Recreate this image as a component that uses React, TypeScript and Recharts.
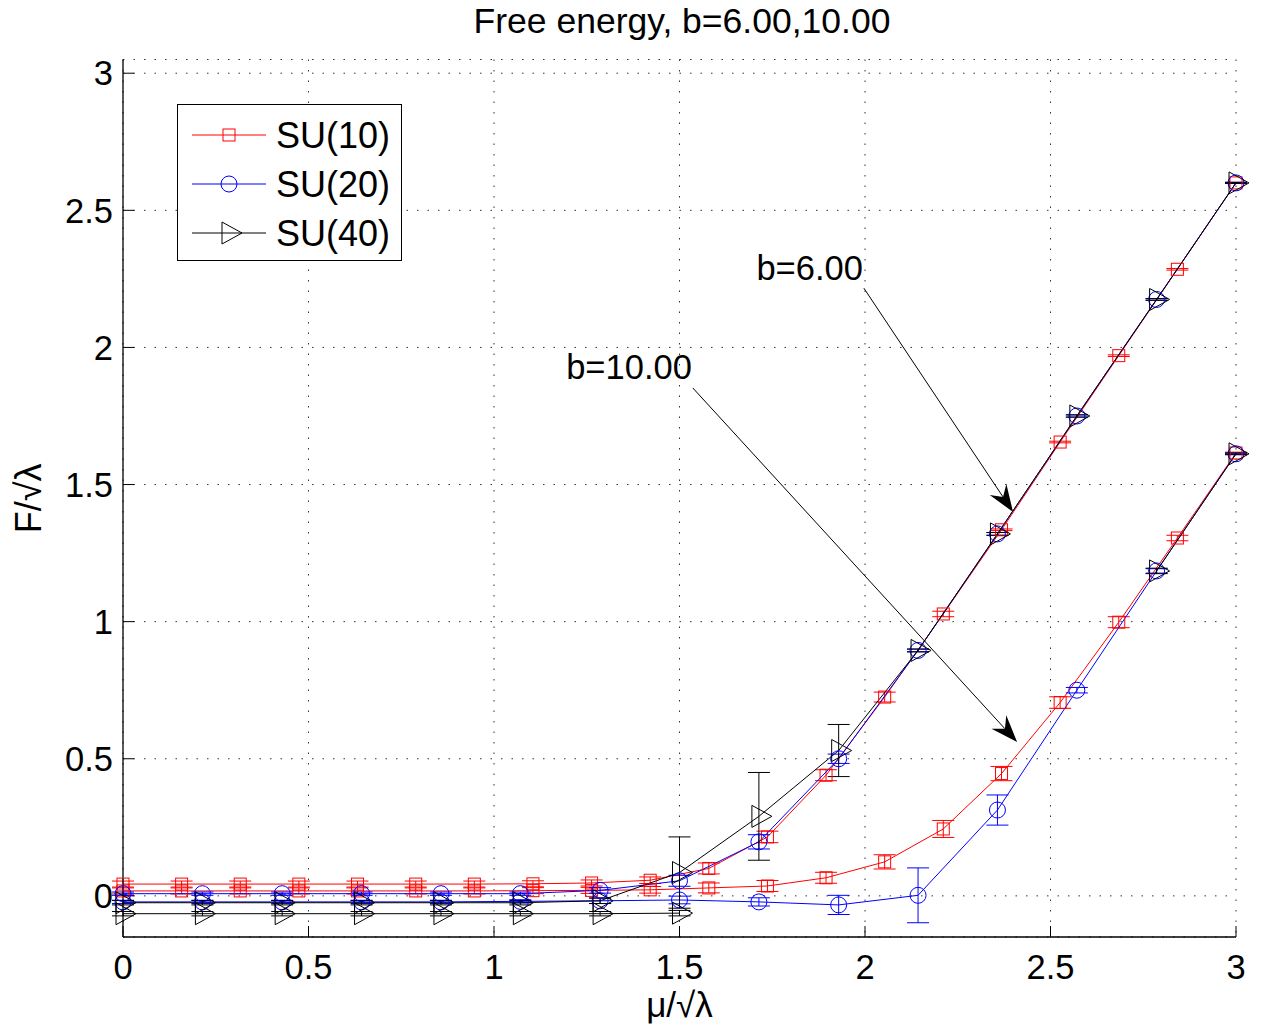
import React from 'react';
import { LineChart, Line, XAxis, YAxis, CartesianGrid, ErrorBar, Legend, ReferenceLine, Label } from 'recharts';

const FONT = '"Liberation Sans", Arial, Helvetica, sans-serif';

// ---- data ----
const muSU10 = [0, 0.158, 0.316, 0.474, 0.632, 0.789, 0.947, 1.105, 1.263, 1.421, 1.579, 1.737, 1.895, 2.053, 2.211, 2.368, 2.526, 2.684, 2.842, 3];
const su10b6 = [0.043, 0.043, 0.043, 0.043, 0.043, 0.043, 0.043, 0.044, 0.047, 0.057, 0.1, 0.215, 0.44, 0.725, 1.028, 1.335, 1.655, 1.97, 2.285, 2.6];
const su10b6Err = [0.011, 0.011, 0.011, 0.011, 0.011, 0.011, 0.011, 0.011, 0.011, 0.012, 0.02, 0.021, 0.02, 0.018, 0.01, 0.003, 0.003, 0.003, 0.003, 0.002];
const su10b10 = [0.018, 0.018, 0.018, 0.018, 0.018, 0.018, 0.018, 0.019, 0.02, 0.022, 0.029, 0.036, 0.066, 0.124, 0.244, 0.446, 0.705, 0.998, 1.305, 1.615];
const su10b10Err = [0.011, 0.011, 0.011, 0.011, 0.011, 0.011, 0.011, 0.011, 0.011, 0.012, 0.018, 0.02, 0.02, 0.026, 0.031, 0.026, 0.021, 0.02, 0.01, 0.003];

const muSU20 = [0, 0.214, 0.429, 0.643, 0.857, 1.071, 1.286, 1.5, 1.714, 1.929, 2.143, 2.357, 2.571, 2.786, 3];
const su20b6 = [0.008, 0.008, 0.008, 0.008, 0.008, 0.008, 0.02, 0.055, 0.197, 0.5, 0.895, 1.32, 1.75, 2.175, 2.6];
const su20b6Err = [0.006, 0.006, 0.006, 0.006, 0.006, 0.006, 0.01, 0.02, 0.026, 0.017, 0.005, 0.005, 0.004, 0.003, 0.002];
const su20b10 = [-0.022, -0.022, -0.022, -0.022, -0.022, -0.02, -0.018, -0.015, -0.022, -0.033, 0.002, 0.313, 0.75, 1.185, 1.612];
const su20b10Err = [0.006, 0.006, 0.006, 0.006, 0.006, 0.006, 0.01, 0.014, 0.015, 0.035, 0.1, 0.055, 0.01, 0.008, 0.003];

const muSU40 = [0, 0.214, 0.429, 0.643, 0.857, 1.071, 1.286, 1.5, 1.714, 1.929, 2.143, 2.357, 2.571, 2.786, 3];
const su40b6 = [-0.025, -0.025, -0.025, -0.025, -0.025, -0.025, -0.018, 0.085, 0.29, 0.53, 0.895, 1.32, 1.75, 2.175, 2.6];
const su40b6Err = [0.008, 0.008, 0.008, 0.008, 0.008, 0.008, 0.01, 0.13, 0.16, 0.095, 0.005, 0.005, 0.004, 0.003, 0.002];
const su40b10 = [-0.065, -0.065, -0.065, -0.065, -0.065, -0.065, -0.065, -0.063, null, null, null, null, null, 1.185, 1.612];
const su40b10Err = [0.008, 0.008, 0.008, 0.008, 0.008, 0.008, 0.008, 0.01, null, null, null, null, null, 0.01, 0.003];

const xTicks = [0, 0.5, 1, 1.5, 2, 2.5, 3];
const yTicks = [0, 0.5, 1, 1.5, 2, 2.5, 3];
const seriesNames = ['SU(10)', 'SU(20)', 'SU(40)'];
const seriesColors = ['#ff0000', '#0000ff', '#000000'];

const titleText = 'Free energy, b=6.00,10.00';
const xLabelText = 'μ/√λ';
const yLabelText = 'F/√λ';

const arrowB6 = [[1.997, 2.216], [2.399, 1.4]];
const arrowB10 = [[1.536, 1.852], [2.41, 0.561]];
const annotationTexts = ['b=6.00', 'b=10.00'];

const build = (xs: number[], ys: (number | null)[], es: (number | null)[]) =>
  xs.map((x, i) => ({ x, y: ys[i], e: ys[i] == null || es[i] == null ? undefined : es[i] }));

// ---- markers ----
const drawMarker = (kind: number, cx: number, cy: number, color: string, key?: any) => {
  if (kind === 0) return <rect key={key} x={cx - 6} y={cy - 6} width={12} height={12} fill="none" stroke={color} strokeWidth={1} />;
  if (kind === 1) return <circle key={key} cx={cx} cy={cy} r={8} fill="none" stroke={color} strokeWidth={1} />;
  return <polygon key={key} points={`${cx - 7},${cy - 11} ${cx - 7},${cy + 11} ${cx + 13},${cy}`} fill="none" stroke={color} strokeWidth={1} />;
};

const dotFn = (kind: number, color: string) => (props: any) => {
  const { cx, cy, index, value } = props;
  if (cx == null || cy == null || value == null || Number.isNaN(cy)) return <g key={`d-${index}`} />;
  return drawMarker(kind, cx, cy, color, `d-${index}`);
};

const arrowShape = (text: string, tdy: number) => (props: any) => {
  const { x1, y1, x2, y2 } = props;
  const dx = x2 - x1, dy = y2 - y1;
  const len = Math.hypot(dx, dy);
  const ux = dx / len, uy = dy / len;
  const px = -uy, py = ux;
  const L = 27, W = 10, N = 18;
  const bx = x2 - ux * L, by = y2 - uy * L;
  const nx = x2 - ux * N, ny = y2 - uy * N;
  return (
    <g>
      <line x1={x1} y1={y1} x2={nx} y2={ny} stroke="#000" strokeWidth={1} />
      <polygon points={`${x2},${y2} ${bx + px * W},${by + py * W} ${nx},${ny} ${bx - px * W},${by - py * W}`} fill="#000" />
      <text x={x1 - 1} y={y1 + tdy} textAnchor="end" fontSize={34.5} fontFamily={FONT} fill="#000">{text}</text>
    </g>
  );
};

const LegendBox = () => (
  <svg width={226} height={158} style={{ display: 'block' }}>
    <rect x={0.5} y={0.5} width={224} height={156} fill="#fff" stroke="#000" strokeWidth={1} />
    {seriesNames.map((n, i) => {
      const cy = 31 + i * 49;
      return (
        <g key={n}>
          <line x1={15} y1={cy} x2={89} y2={cy} stroke={seriesColors[i]} strokeWidth={1} />
          {drawMarker(i, 52, cy, seriesColors[i])}
          <text x={99} y={cy + 13} fontSize={36} fontFamily={FONT} fill="#000">{n}</text>
        </g>
      );
    })}
  </svg>
);

const tickStyle = { fontSize: 34.5, fill: '#000', fontFamily: FONT };

export default function App() {
  const series = [
    { data: build(muSU10, su10b6, su10b6Err), kind: 0, name: seriesNames[0], legend: true },
    { data: build(muSU10, su10b10, su10b10Err), kind: 0, name: seriesNames[0] + ' b10', legend: false },
    { data: build(muSU20, su20b6, su20b6Err), kind: 1, name: seriesNames[1], legend: true },
    { data: build(muSU20, su20b10, su20b10Err), kind: 1, name: seriesNames[1] + ' b10', legend: false },
    { data: build(muSU40, su40b6, su40b6Err), kind: 2, name: seriesNames[2], legend: true },
    { data: build(muSU40, su40b10, su40b10Err), kind: 2, name: seriesNames[2] + ' b10', legend: false },
  ];
  return (
    <div style={{ fontFamily: FONT, width: 1254, height: 1020, position: 'relative' }}>
      <LineChart width={1254} height={1020} margin={{ top: 51.5, right: 26, bottom: 0, left: 0 }}>
        <CartesianGrid stroke="#333" strokeDasharray="1.5 9" strokeWidth={1} />
        <XAxis
          xAxisId={0}
          type="number"
          dataKey="x"
          domain={[0, 3]}
          ticks={xTicks}
          interval={0}
          height={91}
          tickSize={-11}
          tickMargin={29}
          tick={tickStyle}
          stroke="#000"
          axisLine={{ stroke: '#000', strokeWidth: 1.3 }}
          tickLine={{ stroke: '#000' }}
        >
          <Label value={xLabelText} position="center" dy={22} style={{ fontSize: 35, fill: '#000', fontFamily: FONT }} />
        </XAxis>
        <XAxis
          xAxisId="top"
          orientation="top"
          type="number"
          domain={[0, 3]}
          ticks={xTicks}
          interval={0}
          height={0}
          tickSize={-11}
          tick={false}
          axisLine={{ stroke: '#000', strokeWidth: 1.3 }}
          tickLine={{ stroke: '#000' }}
        />
        <YAxis
          yAxisId={0}
          type="number"
          domain={[-0.15, 3.05]}
          ticks={yTicks}
          interval={0}
          width={115}
          tickSize={-11}
          tickMargin={21}
          tick={tickStyle}
          axisLine={{ stroke: '#000', strokeWidth: 1.3 }}
          tickLine={{ stroke: '#000' }}
        >
          <Label value={yLabelText} angle={-90} position="center" dx={-37} dy={0} style={{ fontSize: 36, fill: '#000', fontFamily: FONT }} />
        </YAxis>
        <YAxis
          yAxisId="right"
          orientation="right"
          type="number"
          domain={[-0.15, 3.05]}
          ticks={yTicks}
          interval={0}
          width={0}
          tickSize={-11}
          tick={false}
          axisLine={{ stroke: '#000', strokeWidth: 1.3 }}
          tickLine={{ stroke: '#000' }}
        />
        {series.map((s, i) => (
          <Line
            key={i}
            data={s.data}
            dataKey="y"
            name={s.name}
            type="linear"
            stroke={seriesColors[s.kind]}
            strokeWidth={1}
            dot={dotFn(s.kind, seriesColors[s.kind])}
            activeDot={false}
            connectNulls={false}
            legendType={s.legend ? 'line' : 'none'}
            isAnimationActive={false}
          >
            <ErrorBar dataKey="e" direction="y" width={11} stroke={seriesColors[s.kind]} strokeWidth={1} isAnimationActive={false} />
          </Line>
        ))}
        <ReferenceLine
          segment={[{ x: arrowB6[0][0], y: arrowB6[0][1] }, { x: arrowB6[1][0], y: arrowB6[1][1] }]}
          shape={arrowShape(annotationTexts[0], -8)}
          ifOverflow="visible"
        />
        <ReferenceLine
          segment={[{ x: arrowB10[0][0], y: arrowB10[0][1] }, { x: arrowB10[1][0], y: arrowB10[1][1] }]}
          shape={arrowShape(annotationTexts[1], -9)}
          ifOverflow="visible"
        />
        <Legend
          layout="vertical"
          align="center"
          verticalAlign="middle"
          content={() => <LegendBox />}
          wrapperStyle={{ position: 'absolute', left: 169, top: 96, width: 226, height: 158, bottom: 'auto', right: 'auto' }}
        />
      </LineChart>
      <svg width={1254} height={50} style={{ position: 'absolute', left: 0, top: -8, pointerEvents: 'none', overflow: 'visible' }}>
        <text x={674} y={33} textAnchor="middle" fontSize={35.5} fontFamily={FONT} fill="#000">{titleText}</text>
      </svg>
    </div>
  );
}
